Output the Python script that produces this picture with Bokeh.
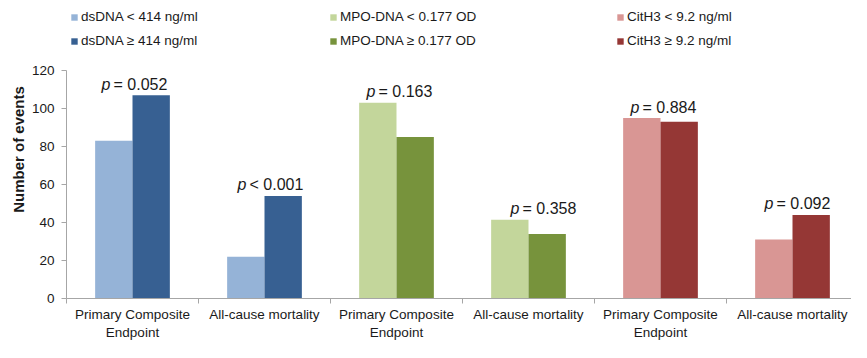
from bokeh.plotting import figure
from bokeh.models import Range1d, FixedTicker, Legend, LegendItem, ColumnDataSource
from bokeh.core.properties import value
from bokeh.embed import file_html
from bokeh.resources import INLINE

# ---- data ----
outcomes = ["Primary Composite\nEndpoint", "All-cause mortality"]
low_labels = ["dsDNA < 414 ng/ml", "MPO-DNA < 0.177 OD", "CitH3 < 9.2 ng/ml"]
high_labels = ["dsDNA \u2265 414 ng/ml", "MPO-DNA \u2265 0.177 OD", "CitH3 \u2265 9.2 ng/ml"]
dsdna_low = [83, 22]
dsdna_high = [107, 54]
mpo_low = [103, 41.5]
mpo_high = [85, 34]
cith3_low = [95, 31]
cith3_high = [93, 44]
p_values = ["= 0.052", "< 0.001", "= 0.163", "= 0.358", "= 0.884", "= 0.092"]
y_ticks = [0, 20, 40, 60, 80, 100, 120]

# ---- style / layout ----
low_colors = ["#95B3D7", "#C3D69B", "#D99694"]
high_colors = ["#376092", "#77933C", "#953735"]
p_dx = [-31, -27, -30, -18, -30, -28]   # label left offset from category centre (px)
p_dy = [11, 11, 11, 11, 11, 11]         # baseline above tallest bar (px)
legend_x = [70, 329, 616]
FONT = "Liberation Sans"
AXIS_COLOR = "#A6A6A6"
TEXT_COLOR = "#1A1A1A"
BAR_W = 0.283

lows = [dsdna_low, mpo_low, cith3_low]
highs = [dsdna_high, mpo_high, cith3_high]
n_cat = len(outcomes) * len(lows)

FRAME_BOTTOM = 298
p = figure(width=851, height=342, output_backend="svg", toolbar_location=None,
           x_range=Range1d(0, 5.947), y_range=Range1d(0, FRAME_BOTTOM / 1.9),
           min_border_left=66, min_border_right=0, min_border_top=0,
           min_border_bottom=342 - FRAME_BOTTOM)
p.grid.visible = False
p.outline_line_color = None
p.background_fill_color = "white"
p.border_fill_color = "white"

renderers_low, renderers_high = [], []
for g in range(len(lows)):
    centers = [g * len(outcomes) + k + 0.5 for k in range(len(outcomes))]
    src_l = ColumnDataSource(dict(x=[c - BAR_W / 2 for c in centers], top=lows[g]))
    src_h = ColumnDataSource(dict(x=[c + BAR_W / 2 for c in centers], top=highs[g]))
    rl = p.vbar(x="x", top="top", width=BAR_W, bottom=0, source=src_l,
                fill_color=low_colors[g], line_color=None)
    rh = p.vbar(x="x", top="top", width=BAR_W, bottom=0, source=src_h,
                fill_color=high_colors[g], line_color=None)
    renderers_low.append(rl)
    renderers_high.append(rh)

# p-value labels
cat_centers, tops = [], []
for g in range(len(lows)):
    for k in range(len(outcomes)):
        cat_centers.append(g * len(outcomes) + k + 0.5)
        tops.append(max(lows[g][k], highs[g][k]))
src_p = ColumnDataSource(dict(x=cat_centers, y=tops, rest=p_values,
                              pp=["p"] * n_cat,
                              dx=p_dx, dx2=[d + 12 for d in p_dx],
                              dy=[-d for d in p_dy]))
p.text(x="x", y="y", text="pp", x_offset="dx", y_offset="dy", source=src_p,
       text_font=value(FONT), text_font_style="italic", text_font_size="16px",
       text_color=TEXT_COLOR, text_align="left", text_baseline="alphabetic")
p.text(x="x", y="y", text="rest", x_offset="dx2", y_offset="dy", source=src_p,
       text_font=value(FONT), text_font_size="16px",
       text_color=TEXT_COLOR, text_align="left", text_baseline="alphabetic")

# y axis
ya = p.yaxis[0]
ya.ticker = FixedTicker(ticks=y_ticks)
ya.bounds = (0, 120)
ya.axis_line_color = AXIS_COLOR
ya.major_tick_line_color = AXIS_COLOR
ya.major_tick_out = 5
ya.major_tick_in = 0
ya.minor_tick_line_color = None
ya.major_label_text_font = FONT
ya.major_label_text_font_size = "13.5px"
ya.major_label_text_color = TEXT_COLOR
ya.major_label_standoff = 7
ya.axis_label = "Number of events"
ya.axis_label_text_font = FONT
ya.axis_label_text_font_size = "15px"
ya.axis_label_text_font_style = "bold"
ya.axis_label_text_color = TEXT_COLOR
ya.axis_label_standoff = 2

# x axis
xa = p.xaxis[0]
centers_all = [i + 0.5 for i in range(n_cat)]
xa.ticker = FixedTicker(ticks=centers_all, minor_ticks=list(range(n_cat + 1)))
xa.major_label_overrides = {c: outcomes[i % len(outcomes)] for i, c in enumerate(centers_all)}
xa.axis_line_color = AXIS_COLOR
xa.major_tick_line_color = None
xa.major_tick_out = 0
xa.major_tick_in = 0
xa.minor_tick_line_color = AXIS_COLOR
xa.minor_tick_out = 5
xa.minor_tick_in = 0
xa.major_label_text_font = FONT
xa.major_label_text_font_size = "13.5px"
xa.major_label_text_color = TEXT_COLOR
xa.major_label_standoff = 3

# legends (three columns of two)
for g in range(len(lows)):
    leg = Legend(items=[LegendItem(label=low_labels[g], renderers=[renderers_low[g]]),
                        LegendItem(label=high_labels[g], renderers=[renderers_high[g]])],
                 location=(legend_x[g] - 66, FRAME_BOTTOM - 48.7), orientation="vertical",
                 glyph_width=8, glyph_height=8, label_standoff=3,
                 label_height=16, spacing=8, padding=0, margin=0,
                 label_text_font=FONT, label_text_font_size="13.5px",
                 label_text_color=TEXT_COLOR, border_line_color=None,
                 background_fill_alpha=0)
    p.add_layout(leg, "center")

open("out.html", "w").write(file_html(p, INLINE))
